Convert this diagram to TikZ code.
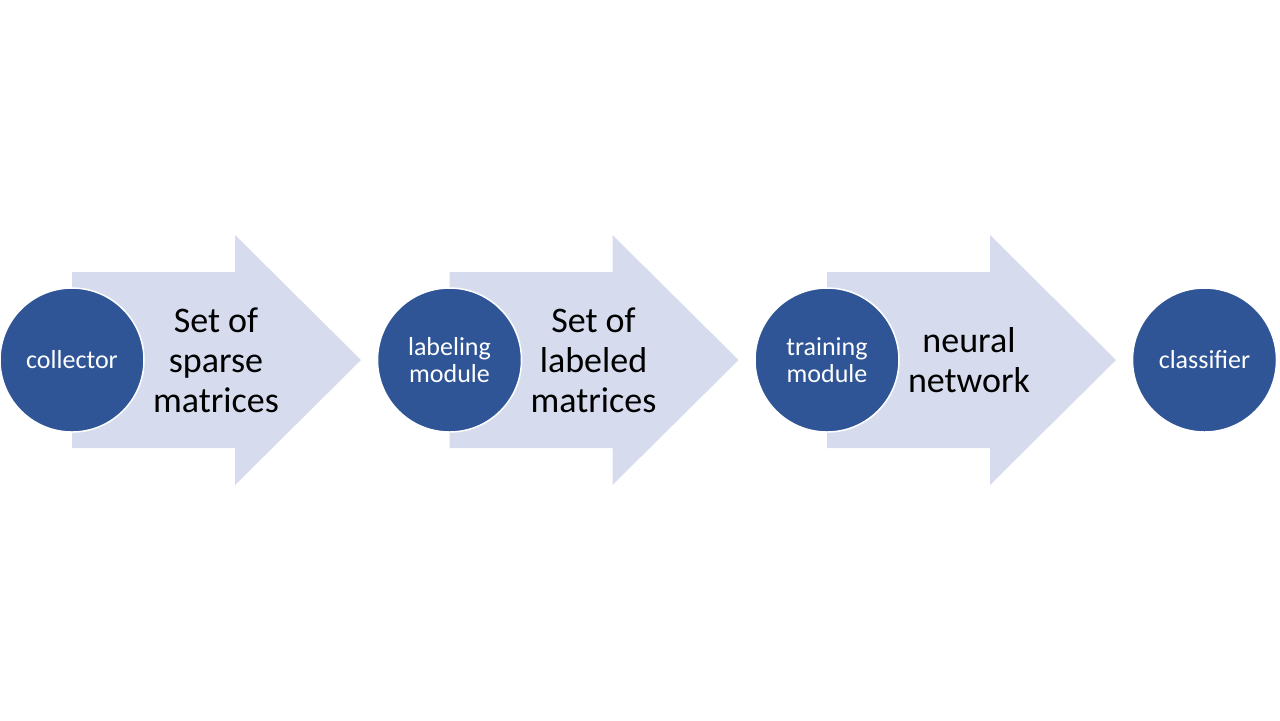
\documentclass[tikz,border=0pt]{standalone}
\usepackage{fontspec}
\setmainfont{Carlito}
\usetikzlibrary{positioning,backgrounds}
\definecolor{HubBlue}{RGB}{47,85,151}
\definecolor{FlowLilac}{RGB}{214,220,237}

\begin{document}
\begin{tikzpicture}[
    x=0.5pt, y=-0.5pt,
    node distance=116pt,
    hub/.style={
      circle, fill=HubBlue, draw=white, line width=0.75pt,
      minimum size=72pt, inner sep=0pt, align=center, text=white,
      font=\fontsize{13}{13.5}\selectfont
    },
    flowtext/.style={inner sep=0pt, align=center, font=\fontsize{18}{20}\selectfont},
    flowfill/.style={fill=FlowLilac, draw=none}
  ]
    \useasboundingbox (0,0) rectangle (1280,720);
    \node[hub] (collect) at (72,360) {collector};
    \node[hub, right=of collect] (label) {labeling\\module};
    \node[hub, right=of label] (train) {training\\module};
    \node[hub, right=of train] (classify) {classifier};

    % block arrows behind the circles
    \begin{pgfonlayer}{background}
      \foreach \c in {collect,label,train}
        \fill[flowfill] (\c.center) ++(0,-88) -- ++(163,0) -- ++(0,-37)
          -- ++(126,125) -- ++(-126,125) -- ++(0,-37) -- ++(-163,0) -- cycle;
    \end{pgfonlayer}

    \node[flowtext] (sparse) at ([xshift=72pt]collect.center) {Set of\\sparse\\matrices};
    \node[flowtext] (labeled) at ([xshift=72pt]label.center) {Set of\\labeled\\matrices};
    \node[flowtext] (network) at ([xshift=71pt]train.center) {neural\\network};
  \end{tikzpicture}
\end{document}
